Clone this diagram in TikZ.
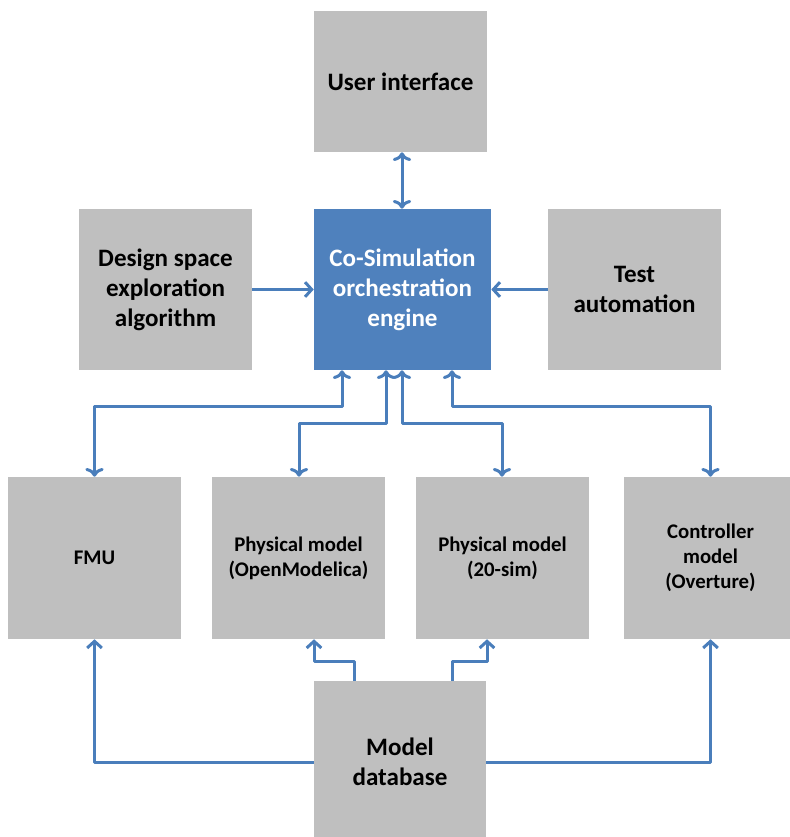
\documentclass[tikz,border=0pt]{standalone}
\usepackage{fontspec}
\setmainfont{Carlito}
\usepackage{tikz}
\usetikzlibrary{arrows.meta,positioning}

\definecolor{boxgray}{HTML}{BFBFBF}
\definecolor{linkblue}{HTML}{4A7EBB}
\definecolor{engineblue}{HTML}{4F81BD}

\tikzset{
  block/.style={fill=boxgray,minimum width=129.75pt,minimum height=120.75pt,
    align=center,inner sep=0pt,font=\bfseries\fontsize{18.8}{22.5}\selectfont},
  smallblock/.style={block,minimum height=121.5pt,font=\bfseries\fontsize{15.6}{18.75}\selectfont},
  link/.style={draw=linkblue,line width=2.25pt,line join=round,
    arrows={-Straight Barb[length=5pt,width=11pt]}}
}

\begin{document}
\begin{tikzpicture}[x=0.75pt,y=-0.75pt]
\useasboundingbox (0,0) rectangle (789,837);
\node[block,minimum height=105.75pt] (ui) at (400.5,81.5) {User interface};
\node[block] (dse) at (165.5,289.5) {Design space\\exploration\\algorithm};
\node[block,fill=engineblue,text=white,minimum width=132.75pt] (cosim) at (402.5,289.5) {Co-Simulation\\orchestration\\engine};
\node[block] (test) at (634.5,289.5) {Test\\automation};
\node[smallblock] (fmu) at (94.5,558) {FMU};
\node[smallblock] (pmom) at (298.5,558) {Physical model\\(OpenModelica)};
\node[smallblock] (pm20) at (502.5,558) {Physical model\\(20-sim)};
\node[smallblock] (ctrl) at (710.5,558) {Controller\\model\\(Overture)};
\node[block,minimum width=129pt,minimum height=121.5pt] (db) at (400,762) {Model\\database};

% bends of the links
\coordinate (b1) at (342,406);
\coordinate (b2) at (386,423);
\coordinate (b3) at (402,423);
\coordinate (b4) at (452,406);
\coordinate (e2) at (299,423);
\coordinate (e3) at (502,423);
\coordinate (d1) at (354,661);
\coordinate (d2) at (314,661);
\coordinate (d3) at (452,661);
\coordinate (d4) at (487,661);

\draw[link,<->] (ui.south -| b3) -- (cosim.north -| b3);
\draw[link] (dse) -- (cosim);
\draw[link] (test) -- (cosim);
\draw[link,<->] (b1 |- cosim.south) -- (b1) -| (fmu.north);
\draw[link,<->] (b2 |- cosim.south) -- (b2) -- (e2) -- (e2 |- pmom.north);
\draw[link,<->] (b3 |- cosim.south) -- (b3) -- (e3) -- (e3 |- pm20.north);
\draw[link,<->] (b4 |- cosim.south) -- (b4) -| (ctrl.north);
\draw[link] (db.west) -| (fmu.south);
\draw[link] (db.east) -| (ctrl.south);
\draw[link] (d1 |- db.north) -- (d1) -- (d2) -- (d2 |- pmom.south);
\draw[link] (d3 |- db.north) -- (d3) -- (d4) -- (d4 |- pm20.south);
\end{tikzpicture}
\end{document}
